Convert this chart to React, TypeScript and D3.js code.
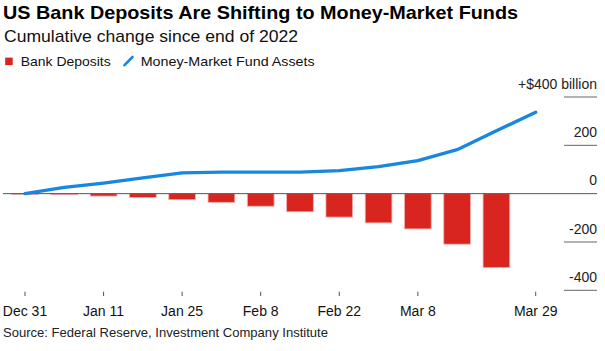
import { FC } from "react";
import * as d3 from "d3";

const dates = [
  "Dec 31", "Jan 4", "Jan 11", "Jan 18", "Jan 25", "Feb 1", "Feb 8",
  "Feb 15", "Feb 22", "Mar 1", "Mar 8", "Mar 15", "Mar 22", "Mar 29",
];
// cumulative change since end of 2022, $ billions
const bankDeposits: (number | null)[] = [
  -3, -4, -10, -16, -25, -36, -52, -75, -97, -121, -146, -209, -306, null,
];
const mmfAssets = [0, 26, 44, 65, 86, 89, 89, 89, 95, 112, 137, 182, 260, 337];
const xTickLabels = ["Dec 31", "Jan 11", "Jan 25", "Feb 8", "Feb 22", "Mar 8", "Mar 29"];
const yTicks = [400, 200, 0, -200, -400];

const RED = "#d9251f";
const BLUE = "#1787df";
const FONT = "'Liberation Sans', Arial, Helvetica, sans-serif";

const App: FC = () => {
  const width = 605;
  const height = 351;

  const x = d3.scalePoint<string>().domain(dates).range([25, 535.7]);
  const y = d3.scaleLinear().domain([-400, 400]).range([290.3, 97]);
  const barW = x.step() * 0.68;

  const line = d3
    .line<number>()
    .x((_, i) => x(dates[i])!)
    .y((d) => y(d));

  const fmt = (v: number) => (v === 400 ? "+$400 billion" : String(v));

  return (
    <svg
      width={width}
      height={height}
      style={{ position: "absolute", left: 0, top: 0, display: "block", background: "#fff" }}
      fontFamily={FONT}
    >
      <text x={3} y={18.5} fontSize={19} fontWeight="bold" fill="#000" textLength={515} lengthAdjust="spacingAndGlyphs">
        US Bank Deposits Are Shifting to Money-Market Funds
      </text>
      <text x={4} y={42.3} fontSize={17} fill="#111" textLength={294} lengthAdjust="spacingAndGlyphs">
        Cumulative change since end of 2022
      </text>

      {/* legend */}
      <rect x={5.2} y={57.6} width={7.5} height={7.5} fill={RED} />
      <text x={20.7} y={65.7} fontSize={13.5} fill="#111" textLength={90} lengthAdjust="spacingAndGlyphs">
        Bank Deposits
      </text>
      <line x1={124.5} y1={65.2} x2={132.5} y2={57} stroke={BLUE} strokeWidth={2.6} strokeLinecap="round" />
      <text x={140.7} y={65.7} fontSize={13.5} fill="#111" textLength={174} lengthAdjust="spacingAndGlyphs">
        Money-Market Fund Assets
      </text>

      {/* right axis */}
      {yTicks.map((v) => (
        <g key={v}>
          {v !== 0 && (
            <line x1={564} x2={597} y1={y(v)} y2={y(v)} stroke="#666" strokeWidth={1} />
          )}
          <text x={597} y={y(v) - 8.4} fontSize={14} textAnchor="end" fill="#222">
            {fmt(v)}
          </text>
        </g>
      ))}

      {/* bars */}
      {bankDeposits.map((v, i) =>
        v === null ? null : (
          <rect
            key={dates[i]}
            x={x(dates[i])! - barW / 2}
            y={y(0)}
            width={barW}
            height={y(v) - y(0)}
            fill={RED}
            stroke="#f2b1ae"
            strokeWidth={0.8}
          />
        ),
      )}

      <line x1={3} x2={597} y1={y(0)} y2={y(0)} stroke="#555" strokeWidth={1} />

      <path
        d={line(mmfAssets) ?? ""}
        fill="none"
        stroke={BLUE}
        strokeWidth={3.3}
        strokeLinejoin="round"
        strokeLinecap="round"
      />

      {/* x axis */}
      {xTickLabels.map((d) => (
        <g key={d} transform={`translate(${x(d)},0)`}>
          <line y1={291.7} y2={296} stroke="#555" strokeWidth={1} />
          <text y={315.5} fontSize={14} textAnchor="middle" fill="#111">
            {d}
          </text>
        </g>
      ))}

      <text x={3} y={337} fontSize={13} fill="#222" textLength={325} lengthAdjust="spacingAndGlyphs">
        Source: Federal Reserve, Investment Company Institute
      </text>
    </svg>
  );
};

export default App;
